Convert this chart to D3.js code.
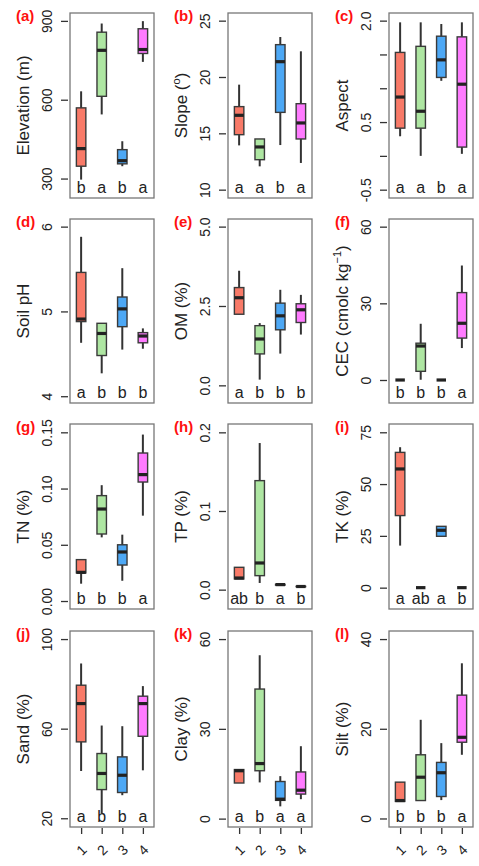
<!DOCTYPE html>
<html>
<head>
<meta charset="utf-8">
<script src="https://cdn.jsdelivr.net/npm/d3@7"></script>
<style>
body { margin: 0; background: #fff; }
text { font-family: "Liberation Sans", Arial, sans-serif; }
</style>
</head>
<body>
<svg id="fig" width="479" height="866"></svg>
<script>
// groups on the x axis and their fills
var groups = [1, 2, 3, 4];
var fills = ["#F87A68", "#AEE6A2", "#4DA8F5", "#FF7BFF"];

var tags = ["(a)", "(b)", "(c)", "(d)", "(e)", "(f)", "(g)", "(h)", "(i)", "(j)", "(k)", "(l)"];

// box stats per group: [whisker low, q1, median, q3, whisker high]
var elevation = [[296, 347, 414, 569, 632], [544, 613, 788, 857, 890], [347, 356, 368, 410, 442], [744, 776, 791, 870, 899]];
var slope = [[13.93, 14.88, 16.6, 17.37, 19.32], [12.07, 12.66, 13.79, 14.5, 14.5], [13.96, 16.86, 21.36, 22.87, 23.55], [12.37, 14.5, 15.92, 17.63, 22.28]];
var aspect = [[0.29, 0.41, 0.87, 1.53, 1.975], [0.0, 0.41, 0.66, 1.62, 1.975], [1.11, 1.16, 1.42, 1.77, 1.95], [0.03, 0.13, 1.06, 1.76, 1.975]];
var soilPH = [[4.63, 4.88, 4.91, 5.46, 5.88], [4.27, 4.48, 4.74, 4.86, 4.86], [4.55, 4.82, 5.03, 5.17, 5.51], [4.56, 4.63, 4.71, 4.75, 4.80]];
var om = [[2.24, 2.24, 2.76, 3.08, 3.61], [0.18, 0.99, 1.46, 1.88, 1.96], [1.0, 1.75, 2.19, 2.59, 3.01], [1.60, 1.98, 2.38, 2.57, 2.85]];
var cec = [[0, 0, 0, 0, 0], [0.1, 3.4, 13.3, 14.4, 22.0], [0, 0, 0, 0, 0], [12.5, 16.4, 22.2, 34.2, 44.8]];
var tn = [[0.0154, 0.025, 0.0255, 0.0368, 0.0368], [0.0566, 0.0596, 0.0818, 0.0937, 0.103], [0.018, 0.032, 0.0436, 0.050, 0.059], [0.0759, 0.1058, 0.1124, 0.1316, 0.148]];
var tp = [[0.0136, 0.0136, 0.0148, 0.0284, 0.0284], [0.0085, 0.0178, 0.0339, 0.1386, 0.1864], [0.0056, 0.0058, 0.0064, 0.0068, 0.007], [0.0036, 0.0038, 0.004, 0.0042, 0.0044]];
var tk = [[20.3, 34.8, 57.3, 65.3, 67.8], [0, 0, 0, 0, 0], [24.8, 24.8, 27.7, 29.6, 29.6], [0, 0, 0, 0, 0]];
var sand = [[41.1, 54.1, 71.2, 79.4, 89.1], [22.1, 32.8, 40.0, 48.9, 61.4], [30.3, 31.5, 39.2, 47.4, 61.1], [41.4, 56.6, 71.2, 74.5, 79.0]];
var clay = [[11.9, 11.9, 16.0, 16.4, 16.4], [12.1, 16.0, 18.4, 43.3, 54.6], [4.1, 6.1, 6.5, 12.4, 14.2], [6.5, 8.2, 9.5, 15.6, 24.2]];
var silt = [[3.8, 3.8, 4.0, 8.1, 8.1], [4.0, 4.0, 9.2, 14.2, 22.0], [4.1, 4.9, 10.2, 12.5, 16.8], [14.2, 17.0, 18.1, 27.5, 34.6]];

var stats = [elevation, slope, aspect, soilPH, om, cec, tn, tp, tk, sand, clay, silt];

// significance letters
var letters = [
	["b", "a", "b", "a"], ["a", "a", "b", "a"], ["a", "a", "b", "a"],
	["a", "b", "b", "b"], ["a", "b", "b", "b"], ["b", "b", "b", "a"],
	["b", "b", "b", "a"], ["ab", "b", "a", "b"], ["a", "ab", "a", "b"],
	["a", "b", "b", "a"], ["a", "b", "a", "a"], ["b", "b", "b", "a"]
];

var yLims = [[226, 930], [9.26, 25.68], [-0.623, 2.113], [3.92, 6.09], [-0.556, 5.24], [-9, 63],
	[-0.0071, 0.1574], [-0.0246, 0.2106], [-10.3, 79], [16.1, 103.6], [-2.8, 62.7], [-1.9, 41.8]];
var yTicks = [[300, 600, 900], [10, 15, 20, 25], [-0.5, 0, 0.5, 1, 1.5, 2], [4, 5, 6], [0, 2.5, 5], [0, 30, 60],
	[0, 0.05, 0.1, 0.15], [0, 0.1, 0.2], [0, 25, 50, 75], [20, 60, 100], [0, 30, 60], [0, 20, 40]];
var yTickLabels = [["300", "600", "900"], ["10", "15", "20", "25"], ["-0.5", "", "0.5", "", "", "2.0"],
	["4", "5", "6"], ["0.0", "2.5", "5.0"], ["0", "30", "60"], ["0.00", "0.05", "0.10", "0.15"],
	["0.0", "0.1", "0.2"], ["0", "25", "50", "75"], ["20", "60", "100"], ["0", "30", "60"], ["0", "20", "40"]];

// axis titles: [text, superscript, text after]
var yTitles = [["Elevation (m)"], ["Slope (", "o", ")"], ["Aspect"], ["Soil pH"], ["OM (%)"],
	["CEC (cmolc kg", "\u22121", ")"], ["TN (%)"], ["TP (%)"], ["TK (%)"], ["Sand (%)"], ["Clay (%)"], ["Silt (%)"]];

var colLeft = [70, 228, 389];
var frameW = 84;
var rowTop = [13, 219, 424, 631];
var rowBottom = [198, 403, 609, 827];

var svg = d3.select("#fig");

stats.forEach(function(data, p) {
	var col = p % 3, row = Math.floor(p / 3);
	var left = colLeft[col], top = rowTop[row], bottom = rowBottom[row];

	var x = d3.scaleLinear().domain([0.46, 4.54]).range([left, left + frameW]);
	var y = d3.scaleLinear().domain(yLims[p]).range([bottom, top]);
	var bw = x(1.46) - x(1);

	var g = svg.append("g");

	// y axis, rotated labels
	var ax = g.append("g")
		.attr("transform", "translate(" + (left - 2) + ",0)")
		.call(d3.axisLeft(y).tickValues(yTicks[p]).tickSize(7)
			.tickFormat(function(d, i) { return yTickLabels[p][i]; }));
	ax.select(".domain").remove();
	ax.selectAll(".tick line").attr("stroke", "#333").attr("stroke-width", 1.3);
	ax.selectAll(".tick text")
		.attr("x", null).attr("dy", null)
		.attr("transform", "translate(-16,0) rotate(-90)")
		.attr("text-anchor", "middle")
		.attr("font-size", 14)
		.attr("fill", "#222");

	// x axis on the bottom row only
	if (row == 3) {
		var bx = g.append("g")
			.attr("transform", "translate(0," + (bottom + 1) + ")")
			.call(d3.axisBottom(x).tickValues(groups).tickSize(6).tickFormat(d3.format("d")));
		bx.select(".domain").remove();
		bx.selectAll(".tick line").attr("stroke", "#333").attr("stroke-width", 1.3);
		bx.selectAll(".tick text")
			.attr("y", null).attr("dy", "0.35em")
			.attr("transform", "translate(0,22) rotate(-45)")
			.attr("text-anchor", "middle")
			.attr("font-size", 14)
			.attr("fill", "#222");
	}

	// frame
	g.append("rect")
		.attr("x", left).attr("y", top)
		.attr("width", frameW).attr("height", bottom - top)
		.attr("fill", "none").attr("stroke", "#777").attr("stroke-width", 1.3);

	// boxes
	var box = g.selectAll(".box").data(data).enter()
		.append("g").attr("class", "box");

	box.append("line")
		.attr("x1", function(d, i) { return x(groups[i]); })
		.attr("x2", function(d, i) { return x(groups[i]); })
		.attr("y1", function(d) { return y(d[0]); })
		.attr("y2", function(d) { return y(d[4]); })
		.attr("stroke", "#333").attr("stroke-width", 2);

	box.append("rect")
		.attr("x", function(d, i) { return x(groups[i]) - bw / 2; })
		.attr("y", function(d) { return y(d[3]); })
		.attr("width", bw)
		.attr("height", function(d) { return y(d[1]) - y(d[3]); })
		.attr("fill", function(d, i) { return fills[i]; })
		.attr("stroke", "#3a3a3a").attr("stroke-width", 1.4);

	box.append("line")
		.attr("x1", function(d, i) { return x(groups[i]) - bw / 2; })
		.attr("x2", function(d, i) { return x(groups[i]) + bw / 2; })
		.attr("y1", function(d) { return y(d[2]); })
		.attr("y2", function(d) { return y(d[2]); })
		.attr("stroke", "#222").attr("stroke-width", 3.2);

	// letters
	g.selectAll(".sig").data(letters[p]).enter()
		.append("text")
		.attr("x", function(d, i) { return x(groups[i]); })
		.attr("y", bottom - 5)
		.attr("text-anchor", "middle")
		.attr("font-size", 16)
		.attr("fill", "#222")
		.text(function(d) { return d; });

	// y title
	var t = g.append("text")
		.attr("transform", "translate(" + (left - 41) + "," + ((top + bottom) / 2) + ") rotate(-90)")
		.attr("text-anchor", "middle")
		.attr("font-size", 17)
		.attr("fill", "#222");
	var parts = yTitles[p];
	t.append("tspan").text(parts[0]);
	if (parts.length > 1) {
		t.append("tspan").attr("font-size", 11).attr("dy", -7).text(parts[1]);
		t.append("tspan").attr("dy", 7).text(parts[2]);
	}

	// panel tag
	g.append("text")
		.attr("x", left - 54).attr("y", top + 8)
		.attr("font-size", 15)
		.attr("font-weight", "bold")
		.attr("fill", "#FF1010")
		.text(tags[p]);
});
</script>
</body>
</html>
